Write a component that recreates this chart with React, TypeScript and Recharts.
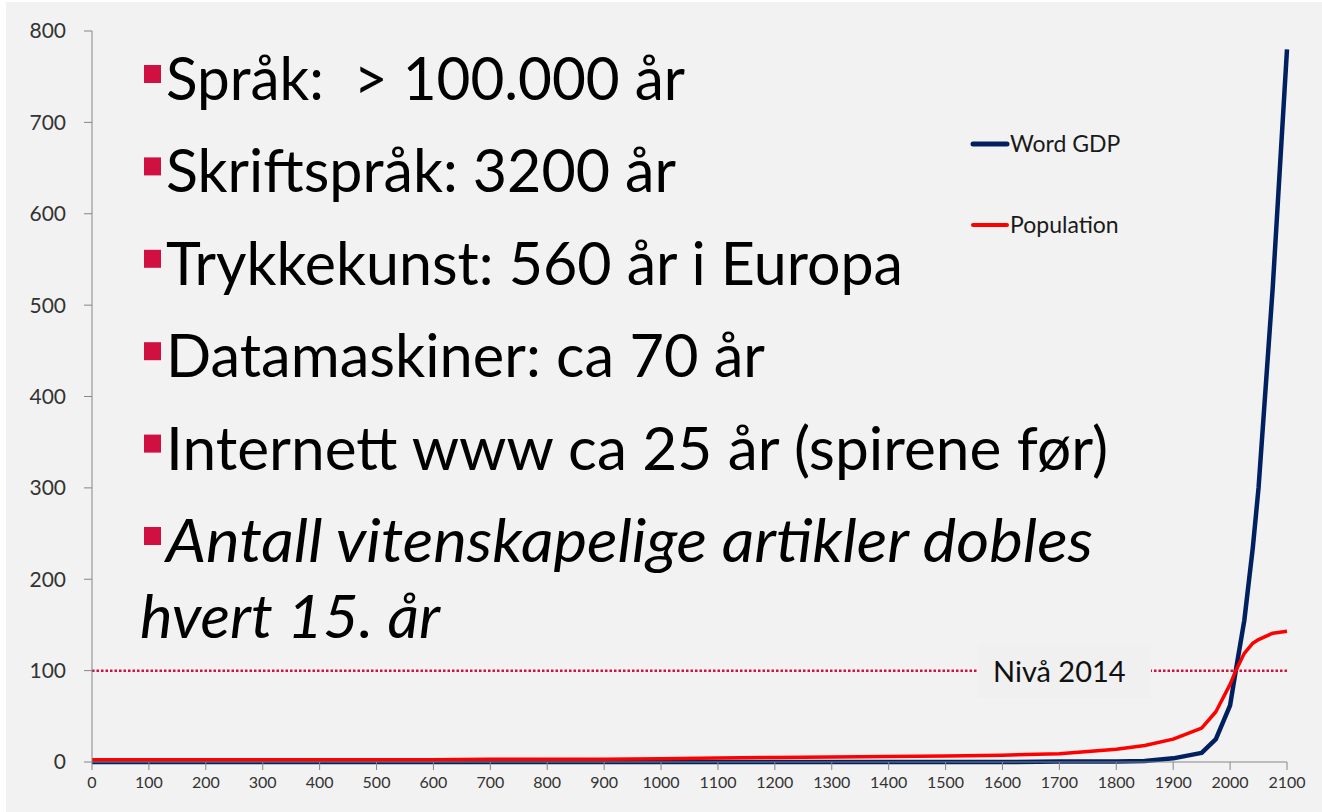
import {
  LineChart,
  Line,
  XAxis,
  YAxis,
  ReferenceLine,
  Legend,
} from "recharts";

const YEARS = [
  0, 100, 200, 300, 400, 500, 600, 700, 800, 900, 1000, 1100, 1200, 1300,
  1400, 1500, 1600, 1700, 1800, 1850, 1900, 1950, 1975, 2000, 2010, 2025,
  2040, 2050, 2075, 2100,
];
const WORLD_GDP = [
  0, 0, 0, 0, 0, 0, 0, 0, 0, 0, 0, 0, 0, 0, 0, 0, 0, 0.5, 0.5, 1, 4, 10, 25,
  62, 100, 155, 235, 300, 520, 780,
];
const POPULATION = [
  2.5, 2.5, 2.5, 2.5, 2.5, 2.5, 2.5, 3, 3, 3, 3.5, 4.5, 5, 5.5, 6, 6.5, 7.5, 9,
  14, 18, 25, 37, 55, 85, 100, 119, 130, 134, 141, 143,
];
const X_TICKS = [
  0, 100, 200, 300, 400, 500, 600, 700, 800, 900, 1000, 1100, 1200, 1300,
  1400, 1500, 1600, 1700, 1800, 1900, 2000, 2100,
];
const Y_TICKS = [0, 100, 200, 300, 400, 500, 600, 700, 800];
const LEVEL_2014 = 100;
const LEGEND_ORDER = ["Word GDP", "Population"];

const BULLETS = [
  { text: "Språk:  > 100.000 år", italic: false },
  { text: "Skriftspråk: 3200 år", italic: false },
  { text: "Trykkekunst: 560 år i Europa", italic: false },
  { text: "Datamaskiner: ca 70 år", italic: false },
  { text: "Internett www ca 25 år (spirene før)", italic: false },
  { text: "Antall vitenskapelige artikler dobles", italic: true },
];
const BULLET_TAIL = "hvert 15. år";
// right edges of each text line in the slide
const LINE_ENDS = [685, 676, 903, 765, 1108, 1093];

const data = YEARS.map((year, i) => ({
  year,
  gdp: WORLD_GDP[i],
  pop: POPULATION[i],
}));

const FONT = "Lato, 'Open Sans', sans-serif";
const AXIS = "#868686";
const CRIMSON = "#d01041";

function LevelLabel(props: any) {
  const { viewBox } = props;
  const cy = viewBox.y;
  return (
    <g>
      <rect x={978} y={cy - 26} width={173} height={53} fill="#f0f0f0" />
      <text x={993} y={cy + 11} fontSize={29} fontFamily={FONT} fill="#111">
        Nivå 2014
      </text>
    </g>
  );
}

function LegendBox(props: any) {
  const items = [...(props.payload || [])].sort(
    (a: any, b: any) =>
      LEGEND_ORDER.indexOf(a.value) - LEGEND_ORDER.indexOf(b.value)
  );
  return (
    <svg width={200} height={110} style={{ overflow: "visible" }}>
      {items.map((it: any, i: number) => (
        <g key={it.value} transform={`translate(0, ${i * 81})`}>
          <line
            x1={1}
            x2={35}
            y1={14}
            y2={14}
            stroke={it.color}
            strokeWidth={i === 0 ? 5 : 4}
            strokeLinecap="round"
          />
          <text x={38} y={22} fontSize={23} fontFamily={FONT} fill="#1a1a1a">
            {it.value}
          </text>
        </g>
      ))}
    </svg>
  );
}

export default function App() {
  return (
    <div
      style={{
        position: "absolute",
        left: 0,
        top: 0,
        width: 1322,
        height: 812,
        background: "#ffffff",
        overflow: "hidden",
      }}
    >
      <div
        style={{
          position: "absolute",
          left: 6,
          top: 2,
          width: 1316,
          height: 810,
          background: "#f2f2f2",
        }}
      />
      <div style={{ position: "absolute", left: 0, top: 0 }}>
        <LineChart
          width={1322}
          height={812}
          data={data}
          margin={{ top: 31, right: 35, bottom: 0, left: 0 }}
        >
          <XAxis
            dataKey="year"
            type="number"
            domain={[0, 2100]}
            ticks={X_TICKS}
            interval={0}
            height={50}
            tickSize={8}
            tickMargin={7}
            stroke={AXIS}
            tick={{ fill: "#333", fontSize: 16, fontFamily: FONT }}
          />
          <YAxis
            type="number"
            domain={[0, 800]}
            ticks={Y_TICKS}
            interval={0}
            width={92}
            tickSize={8}
            tickMargin={18}
            stroke={AXIS}
            tick={{ fill: "#333", fontSize: 21, fontFamily: FONT }}
          />
          <ReferenceLine
            y={LEVEL_2014}
            stroke={CRIMSON}
            strokeWidth={2.5}
            strokeDasharray="2.5 2"
            label={<LevelLabel />}
          />
          <Legend
            layout="vertical"
            align="center"
            verticalAlign="middle"
            content={<LegendBox />}
            wrapperStyle={{ position: "absolute", left: 972, top: 130, width: 200 }}
          />
          <Line
            name="Word GDP"
            dataKey="gdp"
            type="linear"
            stroke="#002060"
            strokeWidth={4.5}
            dot={false}
            strokeLinejoin="round"
            isAnimationActive={false}
          />
          <Line
            name="Population"
            dataKey="pop"
            type="linear"
            stroke="#ff0000"
            strokeWidth={3.5}
            dot={false}
            strokeLinejoin="round"
            isAnimationActive={false}
          />
        </LineChart>
      </div>
      <svg
        width={1322}
        height={812}
        style={{ position: "absolute", left: 0, top: 0, pointerEvents: "none" }}
      >
        {BULLETS.map((b, i) => {
          const base = 100 + i * 92.4;
          return (
            <g key={b.text}>
              <rect x={144} y={base - 35} width={17} height={18} fill={CRIMSON} />
              <text
                x={166}
                y={base}
                fontSize={60}
                fontFamily={FONT}
                fontStyle={b.italic ? "italic" : "normal"}
                fill="#000"
                textLength={LINE_ENDS[i] - 166}
                lengthAdjust="spacingAndGlyphs"
                style={{ whiteSpace: "pre" }}
              >
                {b.text}
              </text>
            </g>
          );
        })}
        <text
          x={140}
          y={638}
          fontSize={60}
          fontFamily={FONT}
          fontStyle="italic"
          fill="#000"
          textLength={300}
          lengthAdjust="spacingAndGlyphs"
        >
          {BULLET_TAIL}
        </text>
      </svg>
    </div>
  );
}
